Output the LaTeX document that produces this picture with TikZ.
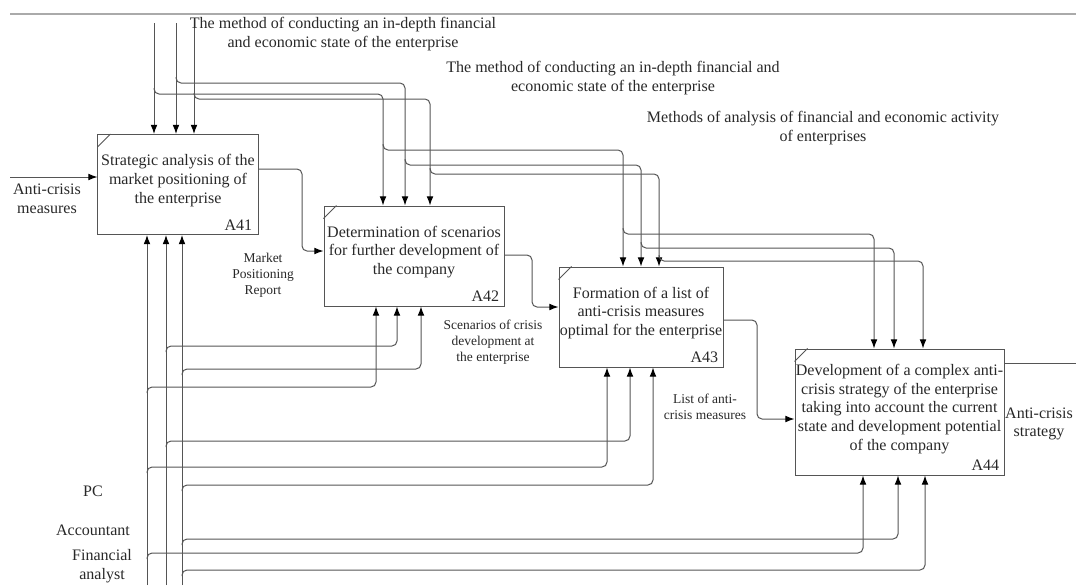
\documentclass[tikz,border=0pt]{standalone}
\usepackage{fontspec}
\setmainfont{Liberation Serif}
\usetikzlibrary{arrows.meta}
\definecolor{linegray}{RGB}{85,85,85}
\definecolor{framegray}{RGB}{170,170,170}
\definecolor{textgray}{RGB}{40,40,40}

\begin{document}
\begin{tikzpicture}[x=0.25mm,y=-0.25mm,
	box/.style={draw=linegray,line width=0.25mm,inner sep=0pt},
	txt/.style={align=center,text=textgray,inner sep=0pt,font=\fontsize{11.4}{13.2}\selectfont},
	small/.style={align=center,text=textgray,inner sep=0pt,font=\fontsize{9.6}{11.4}\selectfont},
	arr/.style={draw=linegray,line width=0.25mm,rounded corners=1.25mm,-{Latex[length=2.3mm,width=1.7mm,color=black]}},
	wire/.style={draw=linegray,line width=0.25mm}]
			\useasboundingbox (0,0) rectangle (1076,585);
			\draw[framegray,line width=0.33mm] (10,14) -- (1076,14);
			
			% blocks
			\node[box,minimum width=40mm,minimum height=25mm] (A41) at (178,184.5) {};
			\node[box,minimum width=45mm,minimum height=25mm] (A42) at (414,256) {};
			\node[box,minimum width=41mm,minimum height=25mm] (A43) at (641,317) {};
			\node[box,minimum width=52.25mm,minimum height=31.5mm] (A44) at (899.5,412) {};
			\foreach \b in {A41,A42,A43,A44}
				\draw[wire] (\b.north west) ++(0,13) -- ++(13,-13);
			
			\node[txt] (t41) at (178,180.5) {Strategic analysis of the\\market positioning of\\the enterprise};
			\node[txt] (t42) at (414,252) {Determination of scenarios\\for further development of\\the company};
			\node[txt] (t43) at (641,313) {Formation of a list of\\anti-crisis measures\\optimal for the enterprise};
			\node[txt] (t44) at (899.5,409) {Development of a complex anti-\\crisis strategy of the enterprise\\taking into account the current\\state and development potential\\of the company};
			\node[txt,anchor=base east] (n41) at ([shift={(-6,-5)}]A41.south east) {A41};
			\node[txt,anchor=base east] (n42) at ([shift={(-5,-5)}]A42.south east) {A42};
			\node[txt,anchor=base east] (n43) at ([shift={(-5,-5)}]A43.south east) {A43};
			\node[txt,anchor=base east] (n44) at ([shift={(-5,-5)}]A44.south east) {A44};
			
			% free ends and arrow points
			\coordinate (c1) at (154,23);
			\coordinate (c2) at (176,23);
			\coordinate (c3) at (194,23);
			\coordinate (m1) at (147,585);
			\coordinate (m2) at (166,585);
			\coordinate (m3) at (182,585);
			\coordinate (in) at (10,177);
			\coordinate (out) at (1076,363);
			\coordinate (k2a) at (A42.north -| 383,0);
			\coordinate (k2b) at (A42.north -| 405,0);
			\coordinate (k2c) at (A42.north -| 430,0);
			\coordinate (k3a) at (A43.north -| 623,0);
			\coordinate (k3b) at (A43.north -| 641,0);
			\coordinate (k3c) at (A43.north -| 659,0);
			\coordinate (k4a) at (A44.north -| 874,0);
			\coordinate (k4b) at (A44.north -| 894,0);
			\coordinate (k4c) at (A44.north -| 923,0);
			\coordinate (j2a) at (A42.south -| 376,0);
			\coordinate (j2b) at (A42.south -| 397,0);
			\coordinate (j2c) at (A42.south -| 421,0);
			\coordinate (j3a) at (A43.south -| 607,0);
			\coordinate (j3b) at (A43.south -| 630,0);
			\coordinate (j3c) at (A43.south -| 653,0);
			\coordinate (j4a) at (A44.south -| 863,0);
			\coordinate (j4b) at (A44.south -| 898,0);
			\coordinate (j4c) at (A44.south -| 925,0);
			
			% controls
			\draw[arr] (c1) -- (c1 |- A41.north);
			\draw[arr] (c2) -- (c2 |- A41.north);
			\draw[arr] (c3) -- (c3 |- A41.north);
			\draw[arr] (c2 |- 0,77) -- (c2 |- 0,83) -| (k2b);
			\draw[arr] (c1 |- 0,88) -- (c1 |- 0,94) -| (k2a);
			\draw[arr] (c3 |- 0,93) -- (c3 |- 0,99) -| (k2c);
			\draw[arr] (k2a |- 0,144) -- (k2a |- 0,150) -| (k3a);
			\draw[arr] (k2b |- 0,159) -- (k2b |- 0,165) -| (k3b);
			\draw[arr] (k2c |- 0,168) -- (k2c |- 0,174) -| (k3c);
			\draw[arr] (k3a |- 0,228) -- (k3a |- 0,234) -| (k4a);
			\draw[arr] (k3b |- 0,242) -- (k3b |- 0,248) -| (k4b);
			\draw[arr] (k3c |- 0,255) -- (k3c |- 0,261) -| (k4c);
			
			% mechanisms
			\draw[arr] (m1) -- (m1 |- A41.south);
			\draw[arr] (m2) -- (m2 |- A41.south);
			\draw[arr] (m3) -- (m3 |- A41.south);
			\draw[arr] (m2 |- 0,352) -- (m2 |- 0,346) -| (j2b);
			\draw[arr] (m3 |- 0,375) -- (m3 |- 0,369) -| (j2c);
			\draw[arr] (m1 |- 0,393) -- (m1 |- 0,387) -| (j2a);
			\draw[arr] (m2 |- 0,447) -- (m2 |- 0,441) -| (j3b);
			\draw[arr] (m1 |- 0,473) -- (m1 |- 0,467) -| (j3a);
			\draw[arr] (m3 |- 0,491) -- (m3 |- 0,485) -| (j3c);
			\draw[arr] (m3 |- 0,545) -- (m3 |- 0,539) -| (j4b);
			\draw[arr] (m1 |- 0,559) -- (m1 |- 0,553) -| (j4a);
			\draw[arr] (m3 |- 0,576) -- (m3 |- 0,570) -| (j4c);
			
			% inputs and outputs
			\draw[arr] (in) -- (A41.west |- in);
			\draw[arr] (A41.east |- 0,169) -- (302,169) |- (A42.west |- 0,251);
			\draw[arr] (A42.east |- 0,255) -- (532,255) |- (A43.west |- 0,307);
			\draw[arr] (A43.east |- 0,320) -- (757,320) |- (A44.west |- 0,419);
			\draw[wire] (A44.east |- out) -- (out);
			
			% labels
			\node[txt] (l1) at (343,34) {The method of conducting an in-depth financial\\and economic state of the enterprise};
			\node[txt] (l2) at (613,78) {The method of conducting an in-depth financial and\\economic state of the enterprise};
			\node[txt] (l3) at (823,128) {Methods of analysis of financial and economic activity\\of enterprises};
			\node[txt] (lin) at (47,199) {Anti-crisis\\measures};
			\node[txt] (lout) at (1039,424) {Anti-crisis\\strategy};
			\node[small] (r41) at (263,275) {Market\\Positioning\\Report};
			\node[small] (r42) at (493,342) {Scenarios of crisis\\development at\\the enterprise};
			\node[small] (r43) at (705,407) {List of anti-\\crisis measures};
			\node[txt] (pc) at (93,491) {PC};
			\node[txt] (acc) at (93,530) {Accountant};
			\node[txt] (fin) at (102,566) {Financial\\analyst};
			\end{tikzpicture}
\end{document}
